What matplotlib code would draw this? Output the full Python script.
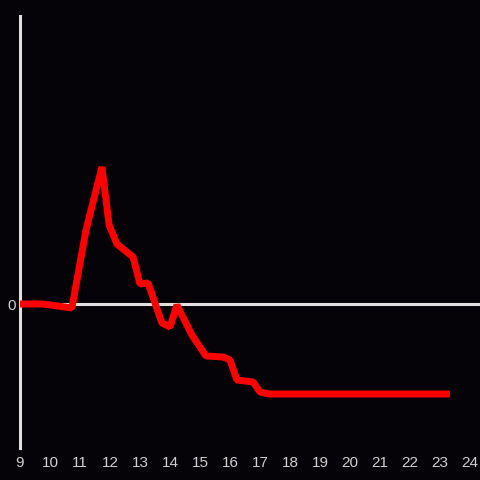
import matplotlib.pyplot as plt

# hours (decimal) and values
hours = [9.0, 9.77, 10.73, 11.2, 11.73, 11.97, 12.23, 12.77, 13.0, 13.27,
         13.73, 14.0, 14.23, 14.73, 15.2, 15.77, 16.0, 16.23, 16.77, 17.0,
         17.3, 23.33]
values = [0, 0, -4, 74, 137, 79, 60, 47, 20, 21,
          -19, -23, -1, -31, -52, -53, -56, -76, -78, -88,
          -90, -90]
xticks = list(range(9, 25))

bg = '#050307'
axis_col = '#e0e0e0'

fig = plt.figure(figsize=(4.8, 4.8), dpi=100, facecolor=bg)
ax = fig.add_axes([20 / 480, 32 / 480, 460 / 480, 432 / 480], facecolor=bg)

ax.plot(hours, values, color='#ff0000', lw=5.0, solid_joinstyle='bevel',
        solid_capstyle='butt', zorder=3)
ax.axhline(0, color=axis_col, lw=2.2, zorder=2)

ax.set_xlim(9, 24 + 10 / 30)
ax.set_ylim(-144, 288)

for s in ['top', 'right', 'bottom']:
    ax.spines[s].set_visible(False)
ax.spines['left'].set_color(axis_col)
ax.spines['left'].set_linewidth(2.2)

ax.set_xticks(xticks)
ax.set_xticklabels([str(t) for t in xticks])
ax.set_yticks([0])
ax.set_yticklabels(['0'])
ax.tick_params(length=0, colors='#d0d0d0', labelsize=11, pad=6)
for lab in ax.get_xticklabels() + ax.get_yticklabels():
    lab.set_family('Liberation Sans')
ax.tick_params(axis='y', pad=3)

fig.savefig('out.png', dpi=100, facecolor=bg)
